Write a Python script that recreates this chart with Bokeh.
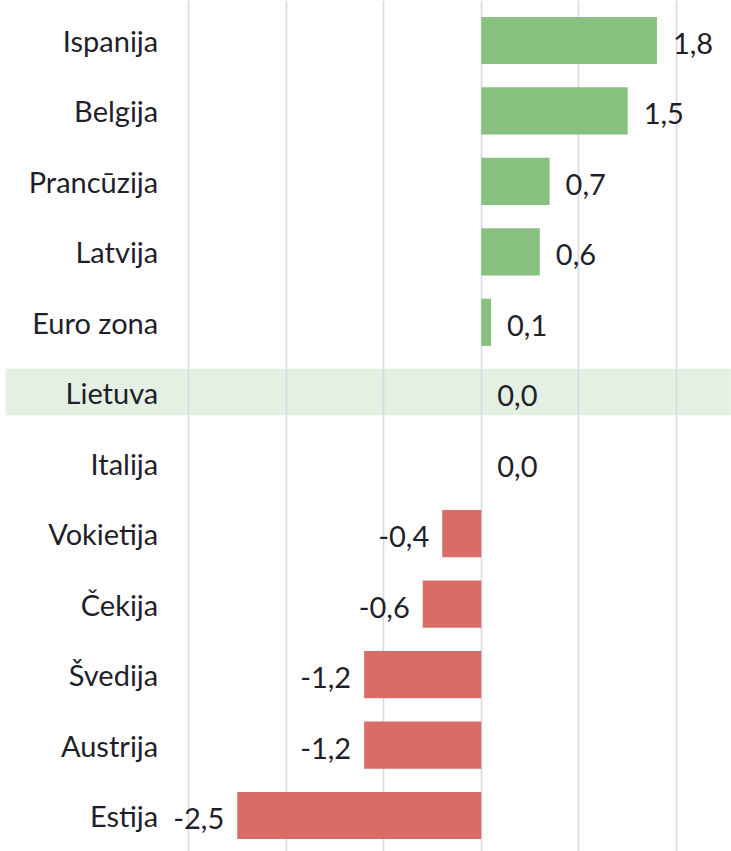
from bokeh.plotting import figure
from bokeh.models import ColumnDataSource, Range1d, FixedTicker, BoxAnnotation
from bokeh.core.properties import value
from bokeh.embed import file_html
from bokeh.resources import INLINE

countries = ["Ispanija", "Belgija", "Prancūzija", "Latvija", "Euro zona", "Lietuva",
             "Italija", "Vokietija", "Čekija", "Švedija", "Austrija", "Estija"]
values = [1.8, 1.5, 0.7, 0.6, 0.1, 0.0, 0.0, -0.4, -0.6, -1.2, -1.2, -2.5]
grid_ticks = [-3, -2, -1, 0, 1, 2]
highlight = "Lietuva"

GREEN = "#88C07F"
RED = "#D96C64"
TEXT = "#1F1F2B"
FONT = "Lato"
FS = "29px"

n = len(countries)
ypos = [n - 1 - i for i in range(n)]
colors = [GREEN if v > 0 else RED for v in values]
labels = [f"{v:.1f}".replace(".", ",") for v in values]
pos_src = ColumnDataSource(dict(y=[y for y, v in zip(ypos, values) if v >= 0],
                                x=[v for v in values if v >= 0],
                                t=[l for l, v in zip(labels, values) if v >= 0]))
neg_src = ColumnDataSource(dict(y=[y for y, v in zip(ypos, values) if v < 0],
                                x=[v for v in values if v < 0],
                                t=[l for l, v in zip(labels, values) if v < 0]))
src = ColumnDataSource(dict(y=ypos, v=values, c=colors, name=countries))

p = figure(width=731, height=851, output_backend="svg", toolbar_location=None,
           x_range=Range1d(-4.926, 2.564), y_range=Range1d(-0.511, n - 1 + 0.568),
           min_border=0, outline_line_color=None)
p.xaxis.visible = False
p.yaxis.visible = False
p.ygrid.visible = False
p.xgrid.ticker = FixedTicker(ticks=grid_ticks)
p.xgrid.grid_line_color = "#D8D8E6"
p.xgrid.grid_line_width = 1.6

hy = ypos[countries.index(highlight)]
band = BoxAnnotation(bottom=hy - 0.32, top=hy + 0.34, left=-4.875, right=2.555,
                     fill_color="#E4F0E2", fill_alpha=1.0, line_color=None, level="image")
p.add_layout(band)

p.hbar(y="y", right="v", left=0, height=0.67, color="c", source=src, line_color=None)

p.text(x=-3.31, y="y", text="name", source=src, text_align="right", text_baseline="middle",
       y_offset=0, text_font=value(FONT), text_font_size=FS, text_color=TEXT)
p.text(x="x", y="y", text="t", source=pos_src, text_align="left", text_baseline="middle",
       x_offset=16, y_offset=3, text_font=value(FONT), text_font_size=FS, text_color=TEXT)
p.text(x="x", y="y", text="t", source=neg_src, text_align="right", text_baseline="middle",
       x_offset=-13, y_offset=3, text_font=value(FONT), text_font_size=FS, text_color=TEXT)

open("out.html", "w").write(file_html(p, INLINE))
